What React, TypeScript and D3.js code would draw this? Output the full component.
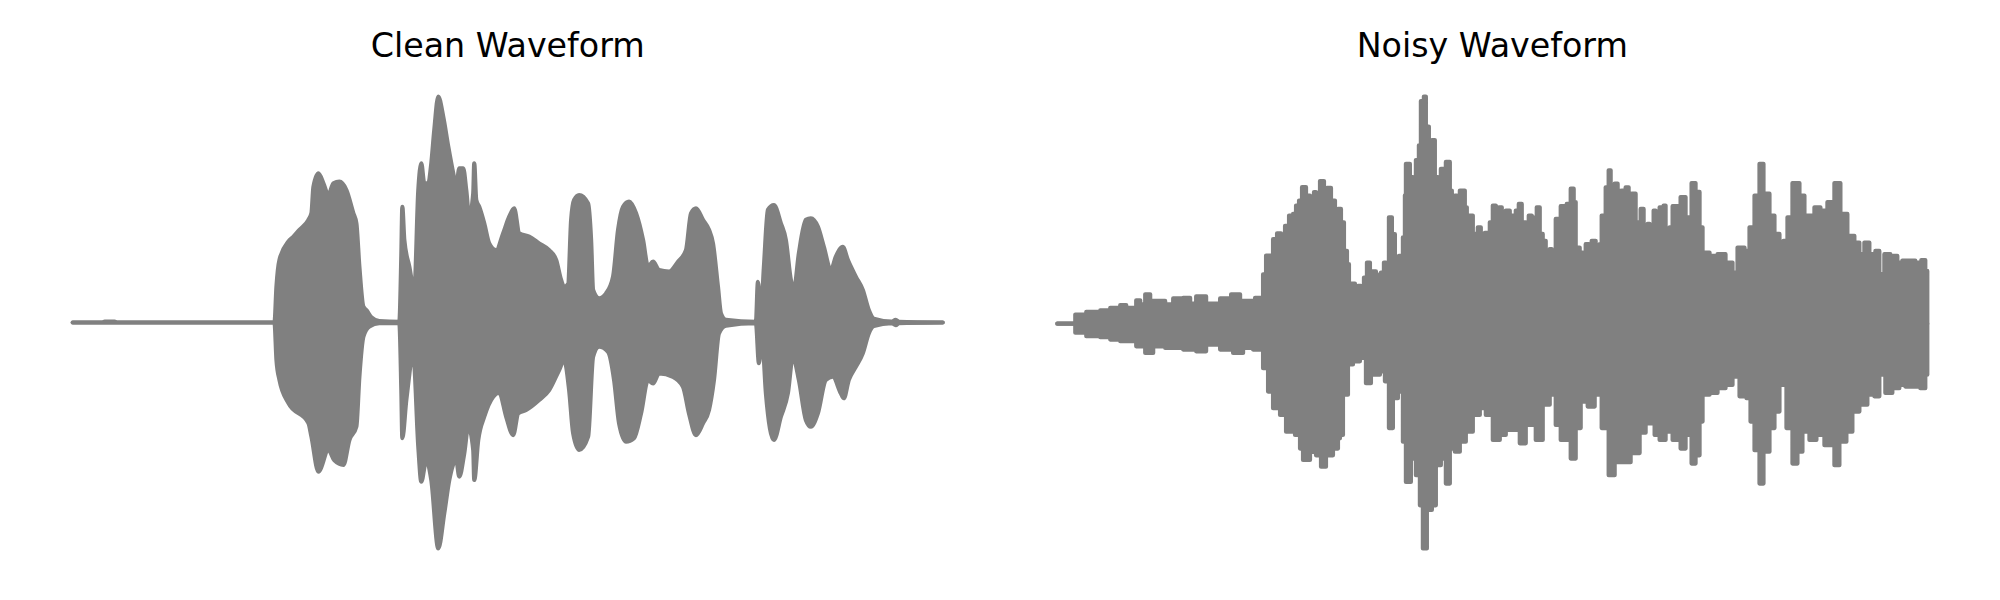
import React from "react";
import * as d3 from "d3";

// Frame index (0..871) vs normalised amplitude.
const titles = ["Clean Waveform", "Noisy Waveform"];
const frameCount = 871;

const cleanUpper: [number, number][] = [
  [0, 0], [30, 0], [32, 0.004], [42, 0.004], [44, 0], [202, 0], [204, 0.16], [207, 0.277], [216, 0.358], [221, 0.38],
  [227, 0.41], [236, 0.454], [239, 0.483], [241, 0.6], [246, 0.66], [251, 0.616], [256, 0.564], [261, 0.616],
  [267, 0.623], [274, 0.586], [281, 0.483], [284, 0.439], [287, 0.247], [291, 0.07], [294, 0.055], [299, 0.023],
  [307, 0.006], [327, 0.003], [329, 0.3], [330, 0.512], [332, 0.365], [337, 0.247], [342, 0.144], [346, 0.586],
  [349, 0.704], [352, 0.616], [356, 0.616], [359, 0.704], [362, 0.852], [366, 1.0], [371, 0.91], [376, 0.778],
  [381, 0.66], [384, 0.6], [387, 0.682], [391, 0.682], [394, 0.586], [397, 0.468], [401, 0.572], [402, 0.704],
  [404, 0.542], [407, 0.512], [412, 0.439], [417, 0.35], [424, 0.32], [431, 0.395], [437, 0.468], [442, 0.505],
  [447, 0.395], [457, 0.38], [467, 0.35], [477, 0.32], [484, 0.277], [489, 0.188], [492, 0.158], [496, 0.17],
  [499, 0.454], [502, 0.542], [507, 0.564], [516, 0.527], [519, 0.365], [521, 0.144], [527, 0.107], [534, 0.129],
  [541, 0.203], [546, 0.41], [551, 0.512], [557, 0.535], [564, 0.483], [571, 0.365], [576, 0.247], [581, 0.269],
  [587, 0.232], [597, 0.225], [606, 0.269], [614, 0.32], [619, 0.483], [624, 0.505], [631, 0.454], [637, 0.41],
  [641, 0.35], [646, 0.158], [649, 0.04], [654, 0.012], [684, 0.003], [686, 0.18], [689, 0.04], [692, 0.247],
  [696, 0.498], [702, 0.52], [709, 0.439], [714, 0.365], [719, 0.188], [722, 0.144], [727, 0.306], [734, 0.454],
  [739, 0.461], [746, 0.424], [752, 0.335], [759, 0.232], [764, 0.291], [771, 0.335], [776, 0.277], [784, 0.203],
  [791, 0.144], [797, 0.055], [802, 0.017], [820, 0.004], [824, 0.012], [827, 0.003], [871, 0],
];

const cleanLower: [number, number][] = [
  [0, 0], [202, 0], [204, -0.166], [207, -0.254], [216, -0.357], [236, -0.445], [239, -0.505], [246, -0.66],
  [256, -0.564], [262, -0.61], [271, -0.63], [277, -0.52], [284, -0.46], [287, -0.24], [291, -0.063], [297, -0.018],
  [307, -0.003], [327, -0.003], [329, -0.3], [330, -0.512], [334, -0.343], [341, -0.151], [346, -0.55], [349, -0.704],
  [354, -0.608], [359, -0.697], [366, -1.0], [372, -0.844], [377, -0.697], [384, -0.608], [387, -0.682],
  [392, -0.579], [396, -0.46], [401, -0.564], [402, -0.697], [406, -0.52], [412, -0.417], [421, -0.328],
  [427, -0.31], [434, -0.417], [441, -0.498], [446, -0.402], [454, -0.387], [467, -0.343], [477, -0.299],
  [487, -0.21], [492, -0.166], [497, -0.299], [501, -0.49], [507, -0.564], [516, -0.505], [521, -0.151],
  [527, -0.107], [536, -0.13], [542, -0.254], [547, -0.446], [554, -0.527], [562, -0.512], [569, -0.402],
  [576, -0.254], [581, -0.27], [587, -0.225], [601, -0.24], [611, -0.284], [617, -0.402], [624, -0.498],
  [631, -0.446], [637, -0.387], [642, -0.254], [647, -0.048], [654, -0.014], [684, -0.003], [687, -0.18],
  [690, -0.06], [694, -0.313], [702, -0.52], [709, -0.417], [716, -0.313], [721, -0.151], [727, -0.254],
  [734, -0.431], [739, -0.461], [746, -0.402], [754, -0.254], [761, -0.24], [769, -0.313], [772, -0.335],
  [777, -0.254], [784, -0.196], [791, -0.136], [797, -0.048], [802, -0.016], [820, -0.003], [824, -0.012],
  [827, -0.003], [871, 0],
];

const noisyUpper: [number, number][] = [
  [0, 0], [16, 0], [18, 0.04], [29, 0.052], [43, 0.058], [53, 0.07], [63, 0.082], [69, 0.07], [79, 0.103],
  [83, 0.085], [88, 0.129], [93, 0.1], [103, 0.1], [108, 0.085], [116, 0.111], [126, 0.114], [133, 0.088],
  [139, 0.12], [149, 0.088], [163, 0.111], [174, 0.129], [183, 0.1], [193, 0.1], [198, 0.114], [204, 0.107],
  [206, 0.217], [209, 0.3], [216, 0.372], [220, 0.398], [224, 0.367], [228, 0.431], [232, 0.476], [236, 0.483],
  [239, 0.52], [242, 0.542], [245, 0.601], [249, 0.564], [253, 0.549], [257, 0.579], [259, 0.52], [263, 0.628],
  [267, 0.579], [270, 0.598], [274, 0.542], [278, 0.476], [281, 0.505], [284, 0.446], [287, 0.321], [290, 0.262],
  [292, 0.151], [294, 0.176], [298, 0.158], [301, 0.166], [304, 0.151], [307, 0.203], [310, 0.269], [313, 0.196],
  [315, 0.23], [319, 0.218], [320, 0.188], [324, 0.225], [327, 0.269], [329, 0.225], [332, 0.468], [335, 0.394],
  [338, 0.247], [339, 0.225], [342, 0.298], [346, 0.38], [348, 0.565], [349, 0.704], [353, 0.645], [356, 0.6],
  [359, 0.72], [362, 0.785], [364, 0.98], [367, 1.0], [369, 0.868], [372, 0.8], [375, 0.808], [378, 0.645],
  [381, 0.623], [384, 0.682], [387, 0.586], [389, 0.712], [393, 0.586], [395, 0.527], [398, 0.564], [400, 0.512],
  [403, 0.586], [408, 0.512], [410, 0.476], [414, 0.476], [416, 0.395], [421, 0.424], [424, 0.365], [428, 0.4],
  [433, 0.446], [436, 0.52], [439, 0.468], [442, 0.512], [445, 0.461], [449, 0.498], [453, 0.468], [455, 0.476],
  [459, 0.498], [462, 0.527], [465, 0.446], [469, 0.424], [472, 0.476], [475, 0.417], [478, 0.468], [480, 0.512],
  [483, 0.395], [486, 0.365], [489, 0.313], [490, 0.254], [493, 0.328], [495, 0.254], [499, 0.461], [503, 0.454],
  [504, 0.517], [508, 0.512], [510, 0.527], [514, 0.594], [517, 0.535], [519, 0.335], [523, 0.313], [526, 0.29],
  [529, 0.35], [532, 0.29], [535, 0.365], [539, 0.335], [540, 0.269], [543, 0.35], [545, 0.476], [549, 0.6],
  [552, 0.675], [554, 0.564], [558, 0.616], [561, 0.586], [563, 0.557], [565, 0.586], [569, 0.6], [572, 0.483],
  [575, 0.572], [579, 0.446], [582, 0.417], [584, 0.505], [587, 0.372], [591, 0.439], [593, 0.38], [597, 0.498],
  [599, 0.35], [603, 0.512], [607, 0.52], [609, 0.41], [613, 0.424], [616, 0.517], [621, 0.517], [624, 0.557],
  [629, 0.468], [635, 0.619], [639, 0.58], [643, 0.424], [646, 0.313], [653, 0.298], [661, 0.306], [669, 0.269],
  [676, 0.225], [681, 0.335], [688, 0.32], [693, 0.424], [698, 0.564], [703, 0.704], [707, 0.572], [713, 0.476],
  [718, 0.395], [723, 0.262], [727, 0.365], [731, 0.468], [736, 0.619], [743, 0.564], [748, 0.476], [758, 0.512],
  [764, 0.498], [771, 0.535], [778, 0.619], [784, 0.483], [791, 0.387], [798, 0.357], [803, 0.306], [808, 0.357],
  [813, 0.306], [819, 0.32], [823, 0.218], [828, 0.306], [834, 0.298], [841, 0.269], [846, 0.277], [853, 0.277],
  [859, 0.269], [865, 0.28], [869, 0.232], [871, 0.158],
];

const noisyLower: [number, number][] = [
  [0, 0], [16, 0], [18, -0.04], [29, -0.055], [43, -0.06], [53, -0.07], [63, -0.077], [79, -0.1], [88, -0.129],
  [96, -0.1], [108, -0.107], [116, -0.107], [126, -0.114], [139, -0.122], [149, -0.092], [163, -0.114],
  [176, -0.129], [186, -0.107], [196, -0.114], [203, -0.107], [206, -0.196], [211, -0.299], [216, -0.372],
  [223, -0.402], [229, -0.476], [238, -0.49], [243, -0.55], [246, -0.6], [253, -0.565], [259, -0.58], [264, -0.63],
  [269, -0.58], [276, -0.55], [281, -0.505], [283, -0.49], [286, -0.313], [291, -0.18], [296, -0.166],
  [303, -0.151], [309, -0.262], [314, -0.225], [323, -0.21], [328, -0.254], [332, -0.46], [336, -0.328],
  [341, -0.299], [346, -0.52], [349, -0.697], [354, -0.594], [359, -0.667], [363, -0.8], [366, -0.99],
  [370, -0.82], [375, -0.8], [379, -0.623], [384, -0.594], [389, -0.704], [393, -0.55], [398, -0.564],
  [403, -0.52], [409, -0.476], [416, -0.402], [423, -0.372], [429, -0.402], [436, -0.512], [443, -0.49],
  [449, -0.468], [463, -0.527], [469, -0.446], [479, -0.512], [486, -0.357], [493, -0.313], [499, -0.446],
  [504, -0.512], [514, -0.594], [519, -0.46], [524, -0.343], [531, -0.365], [538, -0.313], [545, -0.46],
  [552, -0.667], [558, -0.61], [566, -0.61], [574, -0.57], [583, -0.48], [589, -0.439], [598, -0.49],
  [603, -0.512], [609, -0.476], [616, -0.512], [624, -0.55], [629, -0.49], [635, -0.616], [639, -0.58],
  [643, -0.431], [646, -0.313], [653, -0.305], [661, -0.284], [669, -0.27], [676, -0.233], [683, -0.32],
  [690, -0.328], [694, -0.431], [698, -0.557], [703, -0.704], [707, -0.564], [713, -0.46], [718, -0.387],
  [723, -0.27], [730, -0.46], [736, -0.616], [741, -0.564], [746, -0.476], [753, -0.512], [760, -0.49],
  [768, -0.535], [778, -0.623], [783, -0.52], [790, -0.476], [796, -0.387], [803, -0.357], [811, -0.313],
  [818, -0.32], [823, -0.225], [829, -0.305], [836, -0.284], [843, -0.27], [849, -0.277], [858, -0.277],
  [864, -0.284], [869, -0.225], [871, -0.16],
];

const panels = [
  { title: titles[0], upper: cleanUpper, lower: cleanLower, curve: d3.curveMonotoneX },
  { title: titles[1], upper: noisyUpper, lower: noisyLower, curve: d3.curveStepAfter },
];

const W = 2000;
const H = 600;
const axTop = 73.9;
const axBottom = 571.1;
const axLefts = [29.2, 1013.8];
const axWidth = 957;
const grey = "#808080";

function Panel({ idx }: { idx: number }) {
  const p = panels[idx];
  const left = axLefts[idx];
  const margin = frameCount * 0.05;
  const x = d3.scaleLinear().domain([-margin, frameCount + margin]).range([left, left + axWidth]);
  const allA = [...p.upper, ...p.lower].map((d) => d[1]);
  const yMin = d3.min(allA)!;
  const yMax = d3.max(allA)!;
  const ym = (yMax - yMin) * 0.05;
  const y = d3.scaleLinear().domain([yMin - ym, yMax + ym]).range([axBottom, axTop]);
  const area = d3
    .area<[number, number]>()
    .x((d) => x(d[0]))
    .y0(() => y(0))
    .y1((d) => y(d[1]))
    .curve(p.curve);
  return (
    <g>
      {[p.upper, p.lower].map((series, i) => (
        <path
          key={i}
          d={area(series) || ""}
          fill={grey}
          stroke={grey}
          strokeWidth={4.2}
          strokeLinejoin="round"
          strokeLinecap="round"
        />
      ))}
      <text
        x={left + axWidth / 2}
        y={axTop - 16.7}
        textAnchor="middle"
        fontFamily="DejaVu Sans"
        fontSize={33.3}
        fill="#000"
      >
        {p.title}
      </text>
    </g>
  );
}

export default function App() {
  return (
    <svg
      width={W}
      height={H}
      viewBox={`0 0 ${W} ${H}`}
      style={{ position: "absolute", left: 0, top: 0, background: "#fff" }}
    >
      <rect width={W} height={H} fill="#fff" />
      <Panel idx={0} />
      <Panel idx={1} />
    </svg>
  );
}
